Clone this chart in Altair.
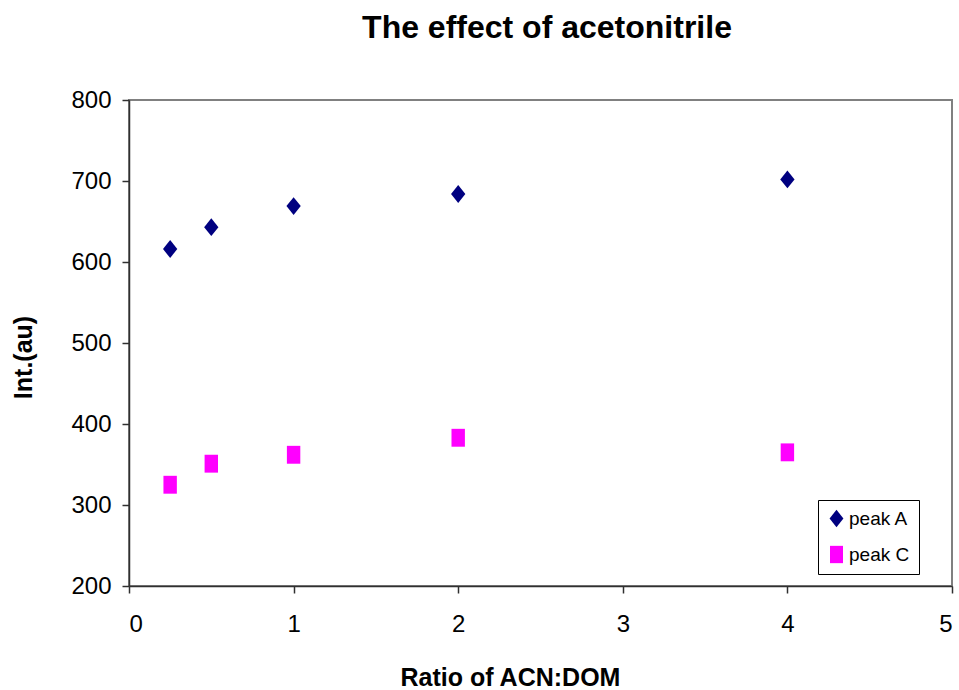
import altair as alt
import pandas as pd

ratio = [0.25, 0.5, 1, 2, 4]
peak_a = [616, 643, 669, 684, 702]
peak_c = [325, 351, 362, 383, 365]
series = ["peak A", "peak C"]
colors = ["#000080", "#FF00FF"]
shapes = ["M0,-1L0.8,0L0,1L-0.8,0Z", "M-0.75,-1L0.75,-1L0.75,1L-0.75,1Z"]
title_text = "The effect of acetonitrile"

rows = []
for x, a, c in zip(ratio, peak_a, peak_c):
    rows.append({"ratio": x, "value": a, "series": series[0]})
    rows.append({"ratio": x, "value": c, "series": series[1]})
df = pd.DataFrame(rows)

FONT = "Liberation Sans"

points = alt.Chart(df).mark_point(filled=True, opacity=1, size=320).encode(
    x=alt.X("ratio:Q", scale=alt.Scale(domain=[0, 5], nice=False),
            axis=alt.Axis(title="Ratio of ACN:DOM", values=[0, 1, 2, 3, 4, 5],
                          format="d", grid=False,
                          titleX=381, titleY=99, titleBaseline="alphabetic",
                          titleAnchor="start", titleAlign="center")),
    y=alt.Y("value:Q", scale=alt.Scale(domain=[200, 800], nice=False),
            axis=alt.Axis(title="Int.(au)", values=[200, 300, 400, 500, 600, 700, 800],
                          grid=False, titleAngle=270, titleX=-98, titleY=257,
                          titleBaseline="alphabetic", titleAlign="center")),
    color=alt.Color("series:N", scale=alt.Scale(domain=series, range=colors),
                    legend=alt.Legend(title=None, orient="none", legendX=689, legendY=400)),
    shape=alt.Shape("series:N", scale=alt.Scale(domain=series, range=shapes), legend=None),
)

title = alt.Chart(pd.DataFrame({"t": [title_text]})).mark_text(
    font=FONT, fontSize=32, fontWeight="bold", color="#000",
    align="center", baseline="alphabetic"
).encode(x=alt.value(418), y=alt.value(-62), text="t:N")

chart = alt.layer(points, title).properties(
    width=823,
    height=486,
    autosize=alt.AutoSizeParams(type="none"),
    padding={"left": 129, "top": 100, "right": 7, "bottom": 104},
    background="#ffffff",
).configure_view(
    stroke="#808080", strokeWidth=2
).configure_axis(
    labelFont=FONT, titleFont=FONT, labelFontSize=24, titleFontSize=25,
    labelColor="#000", titleColor="#000", titleFontWeight="bold",
    domainColor="#303030", domainWidth=1.5, tickColor="#303030", tickWidth=1.5,
    tickSize=7, labelPadding=11,
).configure_axisX(
    labelPadding=19
).configure_legend(
    labelFont=FONT, labelFontSize=19, labelColor="#000",
    strokeColor="#000", fillColor="#fff", padding=9, rowPadding=16,
    symbolSize=300, symbolType="diamond", labelOffset=3
)

chart.save("out.html", embed_options={"renderer": "svg", "actions": False})
